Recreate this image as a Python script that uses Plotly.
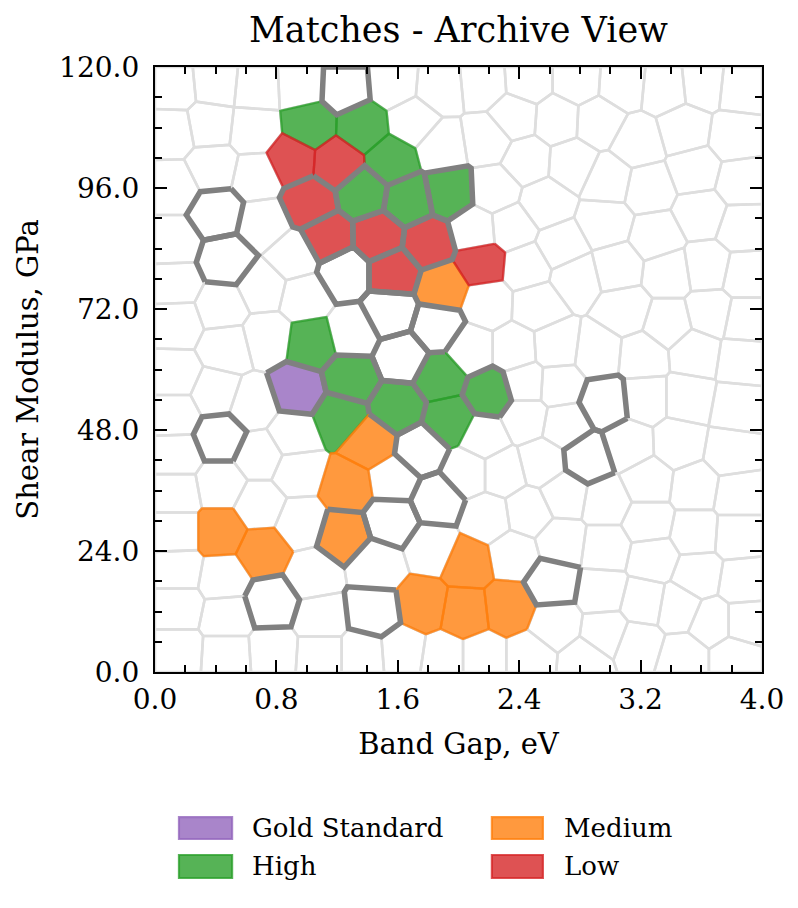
import numpy as np
import plotly.graph_objects as go

# ---------------- data: archive cell centres (band gap eV, shear modulus GPa) ----------------
# unmatched cells of the archive (background tessellation)
bg_gap = [0.12, 0.40, 0.67, 0.96, 1.57, 1.88, 2.16, 2.46, 2.78, 3.08, 3.36, 3.61, 3.86,
          0.11, 0.36, 0.65, 1.70, 1.89, 2.19, 2.37, 2.65, 2.92, 3.18, 3.49, 3.82,
          0.12, 0.38, 0.67, 2.24, 2.45, 2.75, 2.99, 3.25, 3.56, 3.86,
          0.71, 0.12, 0.91, 2.11, 2.35, 2.57, 2.97, 3.30, 3.60, 3.87,
          2.45, 2.68, 3.05, 3.38, 3.64, 3.89,
          0.13, 0.71, 0.44, 0.98, 2.19, 2.52, 2.77, 3.10, 3.38, 3.66, 3.89,
          0.14, 0.47, 0.74, 1.30, 2.08, 2.37, 2.64, 2.92, 3.21, 3.56, 3.87,
          0.13, 0.40, 0.64, 2.44, 2.66, 3.23, 3.51, 3.84,
          0.13, 0.91, 2.17, 2.44, 2.70, 3.12, 3.45, 3.80,
          0.14, 0.69, 0.94, 1.57, 2.06, 2.29, 2.55, 2.70, 2.97, 3.25, 3.56, 3.84,
          0.14, 0.43, 0.69, 0.96, 2.19, 2.46, 2.68, 2.97, 3.25, 3.56, 3.84,
          0.14, 0.15, 0.45, 1.04, 1.46, 1.83, 2.36, 3.28, 3.58, 3.87,
          0.15, 0.47, 1.09, 2.64, 2.95, 3.22, 3.45, 3.67, 3.89, 2.97, 3.18,
          0.15, 0.47, 0.78, 1.09, 1.37, 1.63, 1.90, 2.16, 2.47, 2.83, 3.48, 3.82]
bg_mod = [116.0, 116.8, 116.0, 116.4, 116.8, 116.0, 116.8, 117.4, 117.4, 116.8, 116.0, 116.8, 116.0,
          107.1, 108.5, 107.5, 109.1, 104.1, 105.5, 110.1, 109.5, 109.1, 104.9, 107.5, 106.1,
          96.2, 100.1, 98.2, 95.6, 101.5, 100.9, 97.6, 96.0, 99.5, 97.2,
          89.0, 85.1, 82.3, 87.6, 88.2, 93.0, 89.0, 86.3, 91.0, 88.2,
          80.3, 84.3, 80.3, 79.1, 80.3, 78.7,
          77.1, 76.3, 72.4, 74.4, 73.2, 72.8, 78.3, 71.8, 69.2, 71.2, 69.8,
          69.2, 64.4, 66.4, 67.2, 63.9, 63.9, 64.4, 63.3, 62.5, 63.3, 61.9,
          58.9, 55.3, 52.9, 57.3, 56.9, 54.3, 54.3, 52.4,
          51.0, 47.0, 46.5, 50.4, 49.0, 45.0, 45.4, 43.6,
          43.0, 43.0, 39.7, 38.1, 39.7, 39.7, 41.6, 35.1, 33.7, 37.7, 36.5, 35.1,
          35.5, 37.1, 33.1, 29.7, 30.5, 31.7, 25.8, 24.6, 29.7, 27.8, 27.2,
          27.8, 20.2, 18.6, 19.2, 21.2, 24.6, 23.2, 22.6, 19.2, 17.8,
          12.9, 10.9, 10.7, 9.3, 15.9, 13.9, 12.7, 9.9, 9.9, 7.9, 5.5,
          4.0, 3.4, 4.0, 3.4, 3.4, 4.0, 2.8, 2.8, 2.8, 2.0, 2.8, 2.8]

# matched cells without a confidence class (outlined only)
plain_gap = [1.25, 0.41, 0.47, 1.25, 1.55, 1.86, 1.63, 0.43, 1.75, 1.86, 1.56, 2.97, 2.85, 2.62, 0.77, 1.44]
plain_mod = [116.0, 91.0, 81.7, 79.3, 71.2, 68.4, 62.5, 46.6, 44.0, 34.1, 30.1, 53.5, 42.4, 17.8, 13.7, 11.9]

# classified cells; *_flag = 1 when the cell is also outlined as a match
gold_gap = [0.94]
gold_mod = [55.9]
gold_flag = [1]

high_gap = [1.02, 1.37, 1.56, 1.37, 1.67, 1.94, 1.03, 1.29, 1.22, 1.60, 1.88, 1.94, 2.21]
high_mod = [108.5, 108.1, 101.5, 95.0, 93.6, 95.2, 65.2, 58.3, 50.6, 52.5, 58.5, 50.0, 55.3]
high_flag = [0, 0, 0, 1, 1, 1, 0, 1, 0, 1, 0, 0, 1]

medium_gap = [1.90, 1.42, 1.27, 1.24, 0.43, 0.71, 1.77, 2.06, 2.04, 2.33]
medium_mod = [76.3, 45.4, 36.7, 27.2, 27.8, 23.8, 13.3, 21.6, 11.9, 12.9]
medium_flag = [0, 0, 0, 1, 0, 0, 0, 0, 0, 0]

low_gap = [0.90, 1.20, 1.02, 1.14, 1.47, 1.80, 1.57, 2.15]
low_mod = [101.5, 100.9, 93.2, 86.1, 86.3, 85.1, 79.3, 81.1]
low_flag = [0, 0, 1, 1, 1, 1, 1, 0]

class_names = ["Gold Standard", "High", "Medium", "Low"]
class_colors = ["148,103,189", "44,160,44", "255,127,14", "214,39,40"]

X_RANGE = (0.0, 4.0)
Y_RANGE = (0.0, 120.0)

# ---------------- Voronoi tessellation by half-plane clipping ----------------
classes = [(gold_gap, gold_mod, gold_flag), (high_gap, high_mod, high_flag),
           (medium_gap, medium_mod, medium_flag), (low_gap, low_mod, low_flag)]

all_gap = list(bg_gap) + list(plain_gap)
all_mod = list(bg_mod) + list(plain_mod)
for g, m, f in classes:
    all_gap += list(g)
    all_mod += list(m)

pts = np.column_stack([(np.array(all_gap) - X_RANGE[0]) / (X_RANGE[1] - X_RANGE[0]),
                       (np.array(all_mod) - Y_RANGE[0]) / (Y_RANGE[1] - Y_RANGE[0])])


def clip(poly, n, m):
    out = []
    k = len(poly)
    for a in range(k):
        p = poly[a]
        q = poly[(a + 1) % k]
        dp = (p[0] - m[0]) * n[0] + (p[1] - m[1]) * n[1]
        dq = (q[0] - m[0]) * n[0] + (q[1] - m[1]) * n[1]
        if dp <= 0:
            out.append(p)
        if (dp < 0 < dq) or (dq < 0 < dp):
            t = dp / (dp - dq)
            out.append((p[0] + t * (q[0] - p[0]), p[1] + t * (q[1] - p[1])))
    return out


cells = []
for i, p in enumerate(pts):
    poly = [(0.0, 0.0), (1.0, 0.0), (1.0, 1.0), (0.0, 1.0)]
    d = np.hypot(pts[:, 0] - p[0], pts[:, 1] - p[1])
    for j in np.argsort(d):
        if j == i:
            continue
        rmax = max(np.hypot(v[0] - p[0], v[1] - p[1]) for v in poly)
        if d[j] > 2 * rmax:
            break
        q = pts[j]
        poly = clip(poly, (q[0] - p[0], q[1] - p[1]), ((p[0] + q[0]) / 2, (p[1] + q[1]) / 2))
    cells.append([(X_RANGE[0] + u * (X_RANGE[1] - X_RANGE[0]),
                   Y_RANGE[0] + v * (Y_RANGE[1] - Y_RANGE[0])) for u, v in poly])


def path(indices):
    xs, ys = [], []
    for k in indices:
        poly = cells[k]
        xs += [v[0] for v in poly] + [poly[0][0], None]
        ys += [v[1] for v in poly] + [poly[0][1], None]
    return xs, ys


n_bg = len(bg_gap)
n_plain = len(plain_gap)

fig = go.Figure()

# background tessellation
bx, by = path(range(len(cells)))
fig.add_trace(go.Scatter(x=bx, y=by, mode="lines", line=dict(color="#dedede", width=2.6),
                         hoverinfo="skip", showlegend=False))

# class fills
start = n_bg + n_plain
outlined = list(range(n_bg, n_bg + n_plain))
for (g, m, f), name, col in zip(classes, class_names, class_colors):
    idx = list(range(start, start + len(g)))
    outlined += [k for k, fl in zip(idx, f) if fl]
    start += len(g)
    cx, cy = path(idx)
    fig.add_trace(go.Scatter(x=cx, y=cy, mode="lines", fill="toself",
                             fillcolor=f"rgba({col},0.8)",
                             line=dict(color=f"rgba({col},0.8)", width=2.2),
                             name=name, hoverinfo="skip", showlegend=False))

# matched-cell outlines
ox, oy = path(outlined)
fig.add_trace(go.Scatter(x=ox, y=oy, mode="lines", line=dict(color="#808080", width=5.5),
                         hoverinfo="skip", showlegend=False))

FONT = "DejaVu Serif"

# legend (two columns, drawn below the axes)
legend_cols = [(0.0395, 0.127, 0.1565), (0.555, 0.639, 0.6705)]
legend_rows = [(-0.276, -0.240, -0.258), (-0.3405, -0.3025, -0.321)]
order = [(0, 0), (1, 0), (0, 1), (1, 1)]  # (row, col) for each class
for name, col, (r, c) in zip(class_names, class_colors, order):
    x0, x1, xt = legend_cols[c]
    y0, y1, yt = legend_rows[r]
    fig.add_shape(type="rect", xref="paper", yref="paper", x0=x0, x1=x1, y0=y0, y1=y1,
                  fillcolor=f"rgba({col},0.8)", line=dict(color=f"rgba({col},0.8)", width=2.2))
    fig.add_annotation(xref="paper", yref="paper", x=xt, y=yt, text=name, showarrow=False,
                       xanchor="left", yanchor="middle",
                       font=dict(family=FONT, size=26, color="black"))

axis_common = dict(showline=True, linecolor="black", linewidth=2.3, mirror="allticks",
                   ticks="inside", ticklen=12, tickwidth=2, tickcolor="black",
                   showgrid=False, zeroline=False, tickformat=".1f",
                   tickfont=dict(family=FONT, size=28, color="black"))

fig.update_xaxes(range=list(X_RANGE), tick0=0, dtick=0.8,
                 minor=dict(dtick=0.2, ticks="inside", ticklen=7, tickwidth=1.5,
                            tickcolor="black", showgrid=False),
                 title=dict(text="Band Gap, eV", standoff=19,
                            font=dict(family=FONT, size=29, color="black")),
                 ticklabelstandoff=1, **axis_common)
fig.update_yaxes(range=list(Y_RANGE), tick0=0, dtick=24,
                 minor=dict(dtick=6, ticks="inside", ticklen=7, tickwidth=1.5,
                            tickcolor="black", showgrid=False),
                 title=dict(text="Shear Modulus, GPa", standoff=12,
                            font=dict(family=FONT, size=29, color="black")),
                 ticklabelstandoff=8, **axis_common)

fig.update_layout(
    width=790, height=900,
    margin=dict(l=147, r=36, t=59, b=236),
    paper_bgcolor="white", plot_bgcolor="white",
    title=dict(text="Matches - Archive View", x=0.5, xref="paper", xanchor="center",
               y=1 - 22 / 900, yref="container", yanchor="middle",
               font=dict(family=FONT, size=35, color="black")),
    showlegend=False,
)

fig.write_html("out.html")
